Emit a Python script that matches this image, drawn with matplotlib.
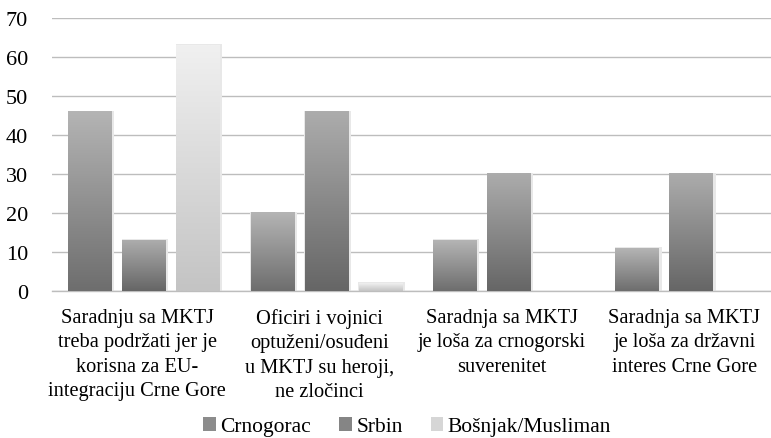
import numpy as np
import matplotlib
matplotlib.use("Agg")
import matplotlib.pyplot as plt
from matplotlib.patches import Patch
from matplotlib.transforms import ScaledTranslation

categories = [
    "Saradnju sa MKTJ\ntreba podržati jer je\nkorisna za EU-\nintegraciju Crne Gore",
    "Oficiri i vojnici\noptuženi/osuđeni\nu MKTJ su heroji,\nne zločinci",
    "Saradnja sa MKTJ\nje loša za crnogorski\nsuverenitet",
    "Saradnja sa MKTJ\nje loša za državni\ninteres Crne Gore",
]
series = ["Crnogorac", "Srbin", "Bošnjak/Musliman"]
crnogorac = [46, 20, 13, 11]
srbin = [13, 46, 30, 30]
bosnjak = [63, 2, 0, 0]

# (top colour, bottom colour) for the gradient fill
shades = [("#b4b4b4", "#6e6e6e"), ("#acacac", "#666666"), ("#f0f0f0", "#c4c4c4")]
legend_colors = ["#8c8c8c", "#858585", "#d6d6d6"]

plt.rcParams['font.family'] = ['Liberation Serif', 'DejaVu Serif']

fig = plt.figure(figsize=(7.71, 4.39), dpi=100)
ax = fig.add_axes([0.067, 0.335, 0.933, 0.622])

x = np.arange(len(categories))
width = 0.241
offsets = [-0.296, 0.0, 0.296]

for vals, off, (top, bot) in zip([crnogorac, srbin, bosnjak], offsets, shades):
    bars = ax.bar(x + off, vals, width, color="none", zorder=3)
    cmap = matplotlib.colors.LinearSegmentedColormap.from_list("g", [bot, top])
    grad = np.linspace(0, 1, 100).reshape(-1, 1)
    for b in bars:
        h = b.get_height()
        if h <= 0:
            continue
        x0 = b.get_x()
        # soft shadow
        ax.bar(x0 + b.get_width() / 2 + 0.006, h + 0.4, b.get_width() + 0.014,
               bottom=-0.2, color="#e8e8e8", zorder=2)
        ax.imshow(grad, cmap=cmap, origin="lower", aspect="auto",
                  extent=[x0, x0 + b.get_width(), 0, h], zorder=3)

ax.set_xlim(-0.507, 3.437)
ax.set_ylim(0, 70)
ax.set_yticks(range(0, 71, 10))
ax.yaxis.grid(True, color="#bdbdbd", linewidth=1.0, zorder=0)
ax.set_axisbelow(True)
for s in ["top", "right", "left"]:
    ax.spines[s].set_visible(False)
ax.spines["bottom"].set_color("#bdbdbd")
ax.spines["bottom"].set_linewidth(1.0)
ax.tick_params(axis="y", length=0, labelsize=16, pad=17)
ax.tick_params(axis="x", length=0, labelsize=14.7, pad=12)
ax.set_xticks(x)
ax.set_xticklabels(categories, linespacing=1.4)
shift = ScaledTranslation(-7 / 100, 0, fig.dpi_scale_trans)
for lab in ax.get_xticklabels():
    lab.set_transform(lab.get_transform() + shift)

handles = [Patch(facecolor=c, edgecolor="none") for c in legend_colors]
fig.legend(handles, series, loc="center", bbox_to_anchor=(0.528, 0.026), ncol=3,
           frameon=False, fontsize=15.5, handlelength=0.6, handleheight=0.6,
           handletextpad=0.2, columnspacing=1.3)

fig.savefig("out.png", dpi=100)
